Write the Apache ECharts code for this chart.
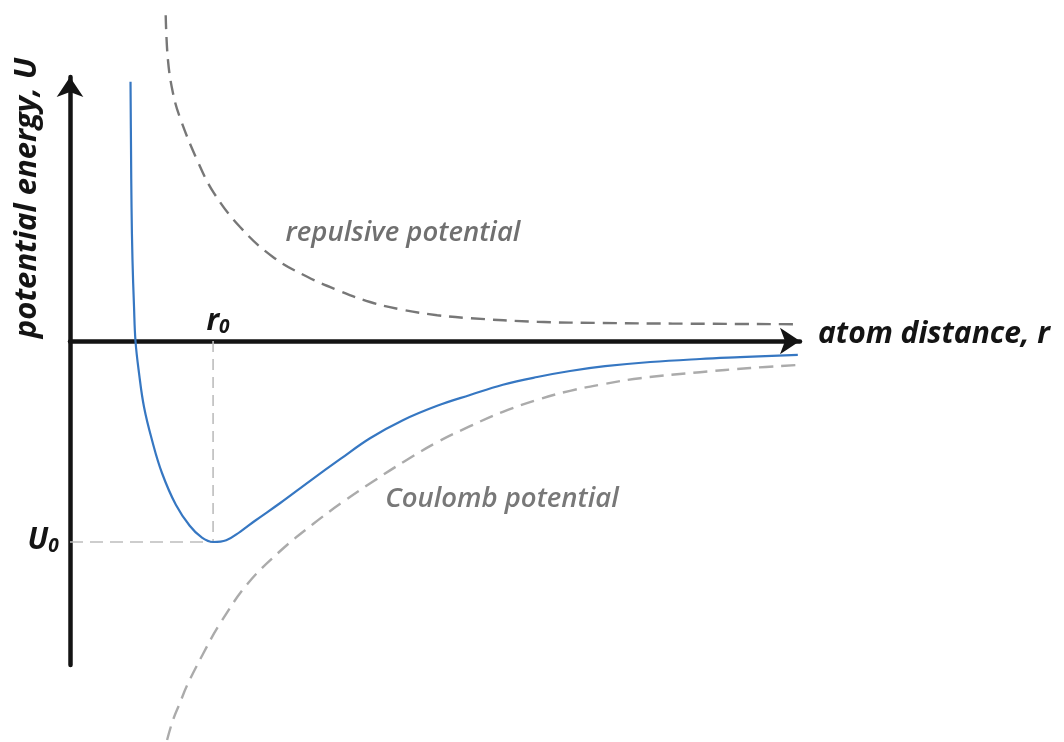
<!DOCTYPE html>
<html>
<head>
<meta charset="utf-8">
<script src="https://cdn.jsdelivr.net/npm/echarts@6/dist/echarts.min.js"></script>
<style>
html,body{margin:0;padding:0;background:#fff;}
#c{width:1064px;height:742px;}
</style>
</head>
<body>
<div id="c"></div>
<script>
// atom distance r (arbitrary units) and potential energies U (arbitrary units)
const totalR = [0.829,0.836,0.843,0.856,0.877,0.897,0.945,1.014,1.123,1.26,1.45,1.64,1.80,1.96,2.14,2.33,2.53,2.88,3.29,3.70,4.11,4.56,5.03,5.48,5.93,6.40,6.85,7.33,7.95,8.63,9.18,9.97];
const totalU = [4.32,3.18,2.23,1.35,0.57,0.00,-0.53,-1.10,-1.65,-2.20,-2.73,-3.08,-3.27,-3.35,-3.32,-3.18,-3.00,-2.70,-2.33,-1.97,-1.62,-1.32,-1.08,-0.90,-0.73,-0.60,-0.50,-0.42,-0.35,-0.30,-0.27,-0.23];

const repR = [1.311,1.342,1.411,1.507,1.74,1.97,2.33,2.78,3.25,3.66,4.11,4.56,5.03,5.48,6.40,7.30,8.26,9.97];
const repU = [5.43,4.68,4.13,3.72,3.02,2.47,1.90,1.40,1.07,0.85,0.65,0.52,0.43,0.38,0.32,0.30,0.29,0.28];

const coulR = [1.33,1.41,1.51,1.60,1.82,2.05,2.43,2.88,3.33,3.74,4.14,4.59,5.04,5.48,5.93,6.40,6.85,7.30,7.81,8.63,9.32,9.97];
const coulU = [-6.65,-6.32,-6.02,-5.75,-5.22,-4.72,-4.05,-3.50,-3.05,-2.68,-2.35,-2.00,-1.68,-1.42,-1.18,-0.98,-0.83,-0.72,-0.62,-0.52,-0.45,-0.40];

const R0 = 1.96;   // equilibrium distance
const U0 = -3.35;  // minimum energy

const xRange = [0, 10];
const yRange = [-5.4, 4.4];

const labels = {
  xName: 'atom distance, r',
  yName: 'potential energy, U',
  rep: 'repulsive potential',
  coul: 'Coulomb potential'
};

const pairs = (a, b) => a.map((v, i) => [v, b[i]]);

const chart = echarts.init(document.getElementById('c'));
const FONT = '"Open Sans", "DejaVu Sans", sans-serif';

chart.setOption({
  animation: false,
  backgroundColor: '#fff',
  grid: { left: 70, top: 77, width: 730, height: 588 },
  xAxis: {
    type: 'value', min: xRange[0], max: xRange[1],
    axisLine: { show: true, onZero: true, lineStyle: { color: '#141414', width: 4.5 },
      symbol: ['none', 'arrow'], symbolSize: [20, 20] },
    axisTick: { show: false }, axisLabel: { show: false }, splitLine: { show: false }
  },
  yAxis: {
    type: 'value', min: yRange[0], max: yRange[1],
    axisLine: { show: true, onZero: false, lineStyle: { color: '#141414', width: 4.5 },
      symbol: ['none', 'arrow'], symbolSize: [20, 20] },
    axisTick: { show: false }, axisLabel: { show: false }, splitLine: { show: false }
  },
  series: [
    {
      type: 'line', data: [[R0, 0], [R0, U0]], symbol: 'none', clip: false, z: 1,
      lineStyle: { color: '#bdbdbd', width: 1.6, type: [11, 7] }
    },
    {
      type: 'line', data: [[xRange[0], U0], [R0, U0]], symbol: 'none', clip: false, z: 1,
      lineStyle: { color: '#bdbdbd', width: 1.6, type: [13, 7] }
    },
    {
      type: 'line', data: pairs(repR, repU), symbol: 'none', clip: false, smooth: 0.4,
      lineStyle: { color: '#777777', width: 2.4, type: [14, 8] }
    },
    {
      type: 'line', data: pairs(coulR, coulU), symbol: 'none', clip: false, smooth: 0.4,
      lineStyle: { color: '#ababab', width: 2.4, type: [14, 8] }
    },
    {
      type: 'line', data: pairs(totalR, totalU), symbol: 'none', clip: false, smooth: 0.4,
      lineStyle: { color: '#3677c2', width: 2.2 }
    }
  ],
  graphic: [
    { type: 'text', left: 818, top: 319, z: 10,
      style: { text: labels.xName, font: 'italic 700 30px ' + FONT, fill: '#141414' } },
    { type: 'text', x: 27, y: 198, rotation: Math.PI / 2, z: 10,
      style: { text: labels.yName, font: 'italic 700 31px ' + FONT, fill: '#141414', align: 'center', verticalAlign: 'middle' } },
    { type: 'text', x: 403, y: 233, z: 10,
      style: { text: labels.rep, font: 'italic 600 27.5px ' + FONT, fill: '#707070', align: 'center', verticalAlign: 'middle' } },
    { type: 'text', x: 502, y: 499, z: 10,
      style: { text: labels.coul, font: 'italic 600 27.5px ' + FONT, fill: '#787878', align: 'center', verticalAlign: 'middle' } },
    { type: 'text', x: 218, y: 321, z: 10,
      style: { text: '{a|r}{b|0}', align: 'center', verticalAlign: 'middle',
        rich: { a: { font: 'italic 700 30px ' + FONT, fill: '#141414' },
                b: { font: 'italic 700 19px ' + FONT, fill: '#141414', padding: [13, 0, 0, 0] } } } },
    { type: 'text', x: 43, y: 540, z: 10,
      style: { text: '{a|U}{b|0}', align: 'center', verticalAlign: 'middle',
        rich: { a: { font: 'italic 700 30px ' + FONT, fill: '#141414' },
                b: { font: 'italic 700 19px ' + FONT, fill: '#141414', padding: [13, 0, 0, 0] } } } }
  ]
});
</script>
</body>
</html>
